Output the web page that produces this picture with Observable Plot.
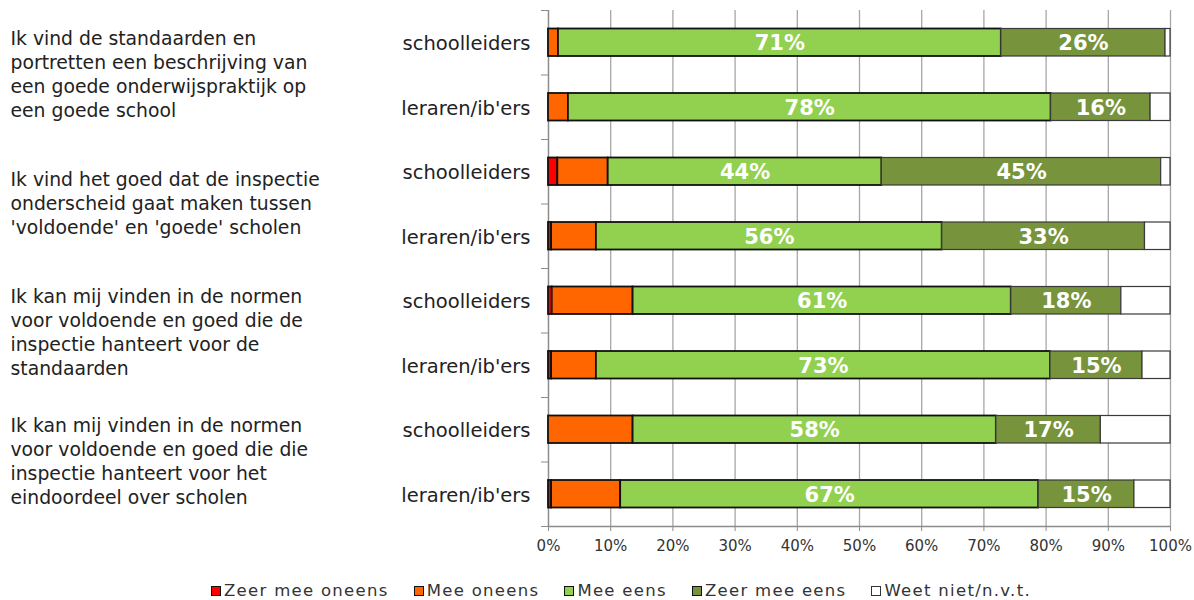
<!DOCTYPE html>
<html><head><meta charset="utf-8">
<script src="https://cdn.jsdelivr.net/npm/d3@7"></script>
<script src="https://cdn.jsdelivr.net/npm/@observablehq/plot@0.6"></script>
<style>
body{margin:0;background:#fff;font-family:"DejaVu Sans",Verdana,sans-serif;}
#wrap{position:relative;width:1194px;height:600px;}
#legend{position:absolute;top:581px;left:211px;display:flex;align-items:center;font-family:"DejaVu Sans",sans-serif;font-size:16.5px;letter-spacing:1.3px;color:#333;white-space:nowrap;}
#legend .it{display:flex;align-items:center;margin-right:25px;}
#legend .sw{width:8px;height:8px;border:1.5px solid #111;margin-right:3px;}
</style></head>
<body><div id="wrap"><div id="chart"></div><div id="legend"></div></div>
<script>
const statements = [
  "Ik vind de standaarden en\nportretten een beschrijving van\neen goede onderwijspraktijk op\neen goede school",
  "Ik vind het goed dat de inspectie\nonderscheid gaat maken tussen\n'voldoende' en 'goede' scholen",
  "Ik kan mij vinden in de normen\nvoor voldoende en goed die de\ninspectie hanteert voor de\nstandaarden",
  "Ik kan mij vinden in de normen\nvoor voldoende en goed die die\ninspectie hanteert voor het\neindoordeel over scholen"
];
const groups = ["schoolleiders","leraren/ib'ers","schoolleiders","leraren/ib'ers","schoolleiders","leraren/ib'ers","schoolleiders","leraren/ib'ers"];
const categories = ["Zeer mee oneens","Mee oneens","Mee eens","Zeer mee eens","Weet niet/n.v.t."];
const colors = ["#ff0000","#ff6600","#92d050","#77933c","#ffffff"];
const zeerMeeOneens = [0,   0,   1.5, 0.5, 0.6, 0.5, 0,    0.5];
const meeOneens     = [1.6, 3.2, 8.1, 7.2, 13.0,7.2, 13.6, 11.1];
const meeEens       = [71.2,77.6,44.0,55.6,60.8,73.0,58.4, 67.2];
const zeerMeeEens   = [26.4,16.0,44.9,32.6,17.7,14.8,16.8, 15.4];
const weetNiet      = [0.8, 3.2, 1.5, 4.1, 7.9, 4.5, 11.2, 5.8];
const xTicks = [0,10,20,30,40,50,60,70,80,90,100];
const labelledCats = ["Mee eens","Zeer mee eens"];

const series = [zeerMeeOneens, meeOneens, meeEens, zeerMeeEens, weetNiet];
const rows = [];
groups.forEach((g, i) => {
  let acc = 0;
  series.forEach((s, c) => {
    rows.push({row: i, group: g, cat: categories[c], value: s[i], x1: acc, x2: acc + s[i]});
    acc += s[i];
  });
});
const groupRows = groups.map((g, i) => ({row: i, group: g}));
const stmtRows = statements.map((t, k) => ({row: 2 * k, text: t}));
const labels = rows.filter(d => labelledCats.includes(d.cat));
const thin = c => c === "Weet niet/n.v.t." || c === "Zeer mee eens";

const chart = Plot.plot({
  width: 1194, height: 566,
  marginLeft: 548, marginRight: 24, marginTop: 10, marginBottom: 40,
  style: {fontFamily: "DejaVu Sans, sans-serif", background: "#fff"},
  x: {domain: [0, 100], ticks: xTicks},
  y: {domain: [0, 8], reverse: true},
  color: {domain: categories, range: colors},
  marks: [
    Plot.gridX(xTicks, {stroke: "#a6a6a6", strokeOpacity: 1, strokeWidth: 1.3}),
    Plot.ruleX([0], {stroke: "#8c8c8c", strokeWidth: 1.3}),
    Plot.ruleY([8], {stroke: "#8c8c8c", strokeWidth: 1.3}),
    Plot.axisY({ticks: d3.range(0, 9), tickFormat: () => "", tickSize: 7, stroke: "#8c8c8c", label: null}),
    Plot.axisX({ticks: xTicks, tickFormat: d => d + "%", tickSize: 5, tickPadding: 9, stroke: "#8c8c8c", fontSize: 15, fill: "#333", label: null}),
    Plot.rectX(rows, {x1: "x1", x2: "x2", y1: "row", y2: d => d.row + 1, fill: "cat",
      insetTop: 18.5, insetBottom: 18.5,
      stroke: d => thin(d.cat) ? "#3a3a3a" : "#111",
      strokeWidth: d => thin(d.cat) ? 1.2 : 1.8}),
    Plot.text(labels, {x: d => (d.x1 + d.x2) / 2, y: d => d.row + 0.5, text: d => Math.round(d.value) + "%",
      fill: "#fff", fontWeight: "bold", fontSize: 21, dy: 1}),
    Plot.text(groupRows, {x: 0, y: d => d.row + 0.5, text: "group", dx: -18, dy: 1, textAnchor: "end", fontSize: 19.5, fill: "#222"}),
    Plot.text(stmtRows, {x: 0, y: d => d.row + 1, text: "text", dx: -538, dy: -2, textAnchor: "start", lineAnchor: "middle", lineHeight: 1.28, fontSize: 18.8, fill: "#222"})
  ]
});
document.getElementById("chart").appendChild(chart);

const legend = document.getElementById("legend");
categories.forEach((c, i) => {
  const it = document.createElement("div"); it.className = "it";
  const sw = document.createElement("div"); sw.className = "sw"; sw.style.background = colors[i];
  if (colors[i] === "#ffffff") sw.style.borderColor = "#333";
  const tx = document.createElement("span"); tx.textContent = c;
  it.appendChild(sw); it.appendChild(tx); legend.appendChild(it);
});
</script></body></html>
